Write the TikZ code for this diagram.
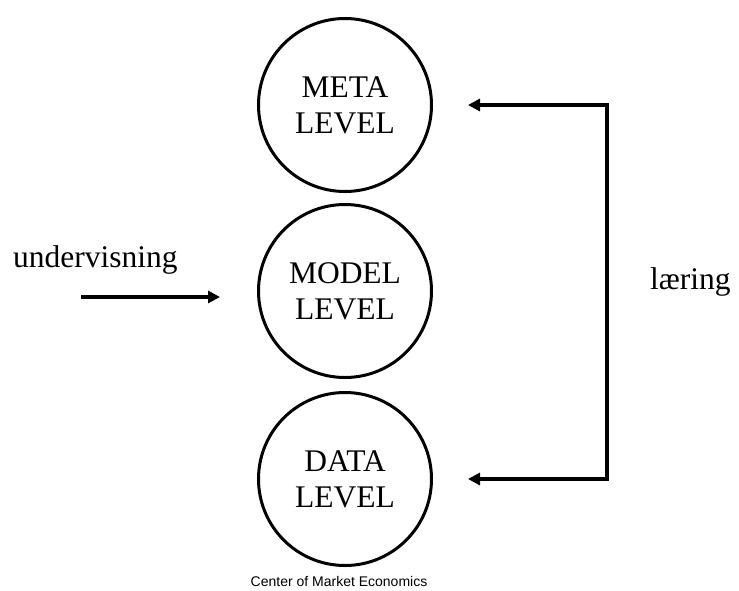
\documentclass[tikz,border=0pt]{standalone}
\usepackage{fontspec}
\setmainfont{Liberation Serif}
\setsansfont{Liberation Sans}
\usetikzlibrary{arrows.meta}
\tikzset{
  level/.style={draw,circle,line width=3pt,minimum size=173pt,inner sep=0pt,
    align=center,font=\fontsize{31.5}{36}\selectfont},
  flow/.style={line width=4pt,>={Triangle[length=12pt,width=12pt]}},
  word/.style={font=\fontsize{31.5}{36}\selectfont,inner sep=0pt}
}
\begin{document}
\begin{tikzpicture}[x=1pt,y=-1pt]
    \useasboundingbox (0,0) rectangle (739,590);
    \node[level] (meta) at (345,105) {META\\LEVEL};
    \node[level] (model) at (345,291) {MODEL\\LEVEL};
    \node[level] (data) at (345,479) {DATA\\LEVEL};
    % undervisning goes in at the model level
    \coordinate (teach) at (81,297);
    \node[word,anchor=base west] (undervisning) at (13,267) {undervisning};
    \draw[flow,->,shorten >=37pt] (teach) -- (teach -| model.west);
    % laering loops back to meta and data
    \coordinate (rail) at (607,291);
    \draw[flow,<->,shorten <=35pt,shorten >=35pt] (meta.east) -| (rail) |- (data.east);
    \node[word,anchor=base west] (laering) at (650,289) {læring};
    \node[font=\sffamily\fontsize{14}{16}\selectfont,inner sep=0pt,anchor=base] (center) at (339,586) {Center of Market Economics};
\end{tikzpicture}
\end{document}
